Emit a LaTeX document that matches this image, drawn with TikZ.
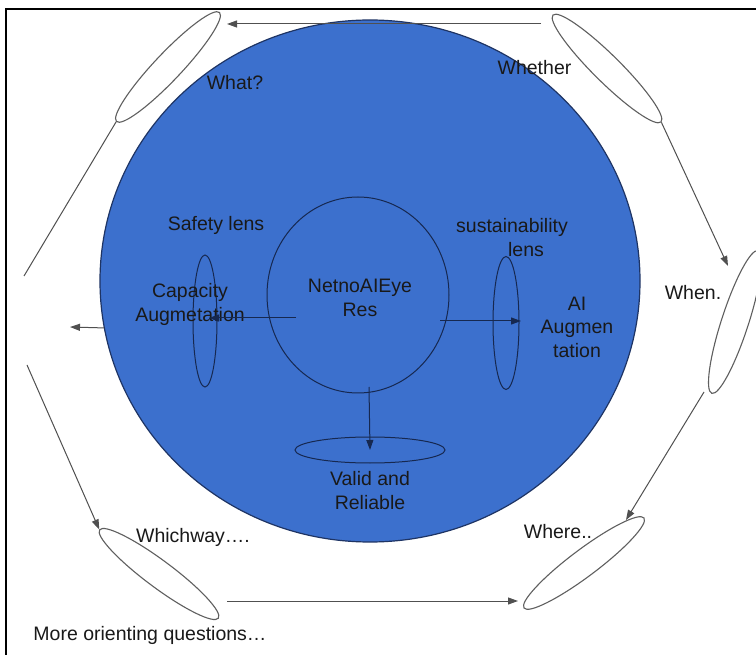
\documentclass[tikz,border=0pt]{standalone}
\usepackage{fontspec}
\setmainfont{Liberation Sans}
\usetikzlibrary{shapes.geometric,arrows.meta}
\definecolor{bigblue}{RGB}{60,112,205}
\definecolor{bigedge}{RGB}{30,52,100}
\definecolor{navy}{RGB}{22,40,80}
\definecolor{qgray}{RGB}{95,95,95}
\definecolor{cgray}{RGB}{80,80,80}
\tikzset{
  txt/.style={font=\fontsize{19.5}{23.5}\selectfont, text=black!90, align=center, inner sep=0pt},
  qell/.style={ellipse, draw=qgray, line width=1.1pt, fill=white, inner sep=0pt, minimum height=27pt},
  lensell/.style={ellipse, draw=navy, line width=1pt, inner sep=0pt},
  conn/.style={draw=cgray, line width=1pt},
  arr/.style={conn, -{Triangle[length=10pt,width=7pt]}},
  iarr/.style={draw=navy, line width=1pt, -{Triangle[length=10pt,width=7pt]}}
}
\begin{document}
\begin{tikzpicture}[x=1pt,y=-1pt]
\useasboundingbox (0,0) rectangle (756,655);
\clip (0,0) rectangle (756,655);
\fill[white] (0,0) rectangle (756,655);
% frame
\draw[black, line width=2pt] (6,9) rectangle (770,670);

% big circle
\node[ellipse, draw=bigedge, line width=1.2pt, fill=bigblue, minimum width=540pt, minimum height=522pt, inner sep=0pt] (bigc) at (370,281) {};

% left outward arrow
\coordinate (leftend) at (70,327);
\draw[arr] (bigc.190) -- (leftend);

% inner circle and lenses
\node[lensell, minimum width=182pt, minimum height=196pt] (inner) at (358,295) {};
\node[lensell, minimum width=24pt, minimum height=132pt] (llens) at (205,321) {};
\node[lensell, minimum width=26pt, minimum height=133pt] (rlens) at (506,323) {};
\node[lensell, minimum width=150pt, minimum height=26pt] (vell) at (370,450) {};

% inner texts
\node[txt] (core) at (360,298) {NetnoAIEye\\Res};
\node[txt] (safety) at (216,225) {Safety lens};
\node[txt] (capacity) at (190,304.5) {Capacity\\Augmetation};
\node[txt] (sust) at (512,227) {sustainability};
\node[txt] (sustlens) at (526,250) {lens};
\node[txt] (ai) at (577,327) {AI\\Augmen\\tation};
\node[txt] (valid) at (370,490.5) {Valid and\\Reliable};

% inner arrows
\coordinate (il) at (296,318);
\coordinate (iltip) at (209,318);
\coordinate (ir) at (440,321);
\coordinate (irtip) at (521,321);
\coordinate (id) at (369,387);
\draw[iarr] (il) -- (iltip);
\draw[iarr] (ir) -- (irtip);
\draw[iarr] (id) -- (vell.center);

% outer question ellipses
\node[qell, minimum width=150pt, rotate=46.6] (what) at (168,67) {};
\node[qell, minimum width=152pt, rotate=-44.7] (whether) at (607,68.5) {};
\node[qell, minimum width=150pt, rotate=72] (when) at (735,322) {};
\node[qell, minimum width=150pt, rotate=36.9] (where) at (584,563) {};
\node[qell, minimum width=148pt, rotate=-36.7] (whichway) at (159,574) {};

% outer texts
\node[txt] (twhat) at (235,83) {What?};
\node[txt] (twhether) at (534.5,68) {Whether};
\node[txt] (twhen) at (693,293) {When.};
\node[txt] (twhere) at (558,532) {Where..};
\node[txt] (twhich) at (193,537) {Whichway….};
\node[txt] (tmore) at (150,635) {More orienting questions…};

% outer connectors
\coordinate (topstart) at (541,24);
\coordinate (topend) at (227,24);
\coordinate (whentip) at (728,266);
\coordinate (whenout) at (704,392);
\coordinate (wheretip) at (626,520);
\coordinate (botstart) at (227,601);
\coordinate (botend) at (518,601);
\coordinate (gapupper) at (24,276);
\coordinate (gaplower) at (27,365);
\draw[arr] (topstart) -- (topend);
\draw[arr] (whether.east) -- (whentip);
\draw[arr] (whenout) -- (wheretip);
\draw[arr] (botstart) -- (botend);
\draw[conn] (what.west) -- (gapupper);
\draw[arr] (gaplower) -- (whichway.west);
\end{tikzpicture}
\end{document}
